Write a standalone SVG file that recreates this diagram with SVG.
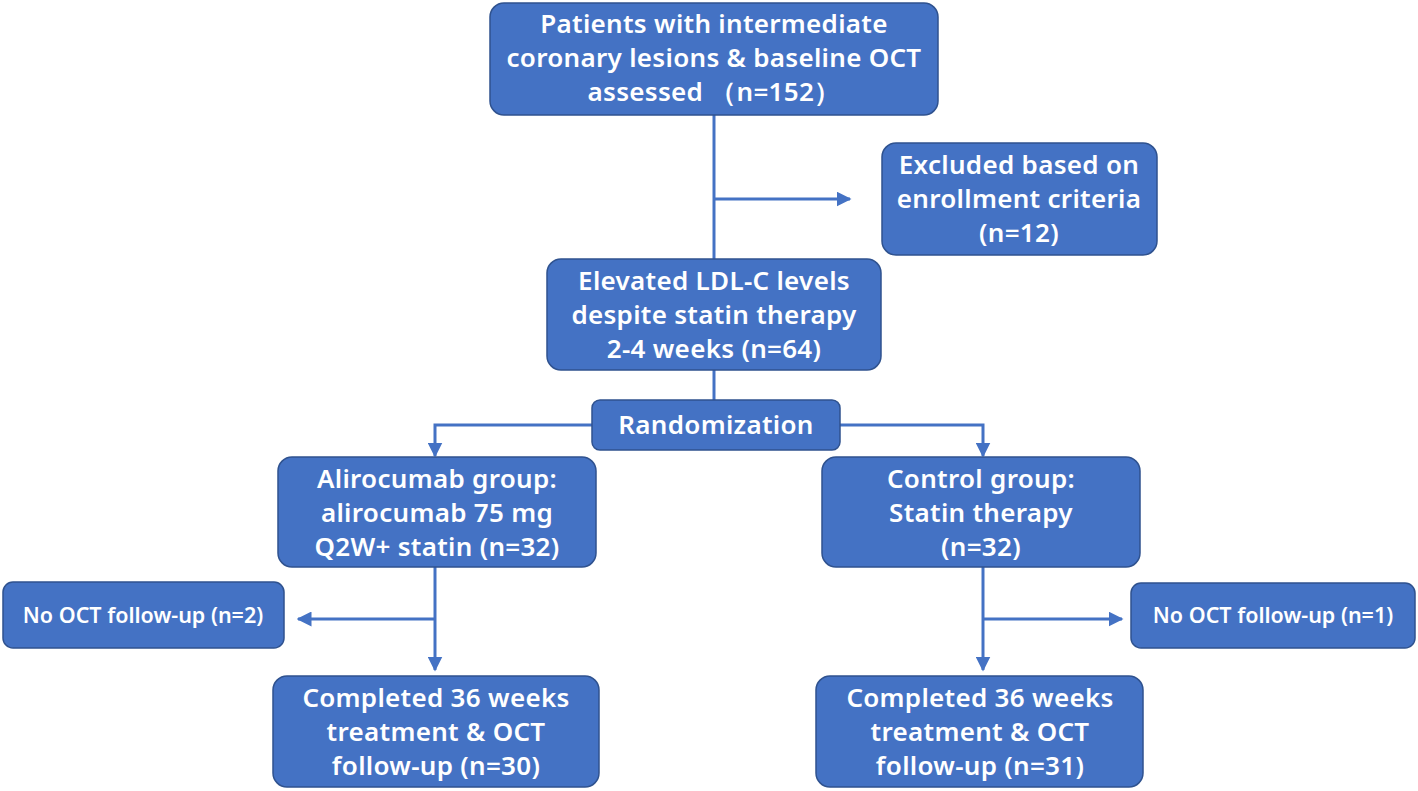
<svg xmlns="http://www.w3.org/2000/svg" width="1418" height="791" viewBox="0 0 1418 791">
<defs>
<style>
.box{fill:#4472C4;stroke:#2F528F;stroke-width:1.5}
.t{font-family:"Noto Sans","Liberation Sans",sans-serif;font-size:26px;font-weight:600;letter-spacing:0.3px;fill:#fff;text-anchor:middle}
.s{font-family:"Noto Sans","Liberation Sans",sans-serif;font-size:21.5px;font-weight:600;fill:#fff;text-anchor:middle}
.ln{fill:none;stroke:#4472C4;stroke-width:3}
</style>
<marker id="ah" viewBox="0 0 10 10" refX="9" refY="5" markerWidth="5" markerHeight="5" orient="auto" markerUnits="strokeWidth">
<path d="M0,0 L10,5 L0,10 z" fill="#4472C4"/>
</marker>
</defs>
<rect width="1418" height="791" fill="#fff"/>
<g id="connectors">
<path class="ln" d="M714,115 V259"/>
<path class="ln" d="M714,199 H850" marker-end="url(#ah)"/>
<path class="ln" d="M714,370 V400"/>
<path class="ln" d="M592,425 H435 V456" marker-end="url(#ah)"/>
<path class="ln" d="M840,425 H983 V456" marker-end="url(#ah)"/>
<path class="ln" d="M435,567 V670" marker-end="url(#ah)"/>
<path class="ln" d="M435,619 H298" marker-end="url(#ah)"/>
<path class="ln" d="M983,567 V670" marker-end="url(#ah)"/>
<path class="ln" d="M983,619 H1122" marker-end="url(#ah)"/>
</g>
<g id="n1"><rect class="box" x="490" y="3" width="448" height="112" rx="14"/>
<text class="t" x="714" y="33">Patients with intermediate</text>
<text class="t" x="714" y="67">coronary lesions &amp; baseline OCT</text>
<text class="t" x="714" y="101">assessed （n=152）</text></g>
<g id="n2"><rect class="box" x="882" y="143" width="275" height="112" rx="14"/>
<text class="t" x="1019" y="174">Excluded based on</text>
<text class="t" x="1019" y="208">enrollment criteria</text>
<text class="t" x="1019" y="242">(n=12)</text></g>
<g id="n3"><rect class="box" x="547" y="259" width="334" height="111" rx="14"/>
<text class="t" x="714" y="290">Elevated LDL-C levels</text>
<text class="t" x="714" y="324">despite statin therapy</text>
<text class="t" x="714" y="358">2-4 weeks (n=64)</text></g>
<g id="n4"><rect class="box" x="592" y="400" width="248" height="50" rx="8"/>
<text class="t" x="716" y="434">Randomization</text></g>
<g id="n5"><rect class="box" x="278" y="457" width="318" height="110" rx="14"/>
<text class="t" x="437" y="488">Alirocumab group:</text>
<text class="t" x="437" y="522">alirocumab 75 mg</text>
<text class="t" x="437" y="556">Q2W+ statin (n=32)</text></g>
<g id="n6"><rect class="box" x="822" y="457" width="318" height="110" rx="14"/>
<text class="t" x="981" y="488">Control group:</text>
<text class="t" x="981" y="522">Statin therapy</text>
<text class="t" x="981" y="556">(n=32)</text></g>
<g id="n7"><rect class="box" x="3" y="582" width="281" height="66" rx="10"/>
<text class="s" x="143" y="623">No OCT follow-up (n=2)</text></g>
<g id="n8"><rect class="box" x="1131" y="583" width="284" height="65" rx="10"/>
<text class="s" x="1273" y="623">No OCT follow-up (n=1)</text></g>
<g id="n9"><rect class="box" x="273" y="676" width="326" height="111" rx="14"/>
<text class="t" x="436" y="707">Completed 36 weeks</text>
<text class="t" x="436" y="741">treatment &amp; OCT</text>
<text class="t" x="436" y="775">follow-up (n=30)</text></g>
<g id="n10"><rect class="box" x="816" y="676" width="327" height="111" rx="14"/>
<text class="t" x="980" y="707">Completed 36 weeks</text>
<text class="t" x="980" y="741">treatment &amp; OCT</text>
<text class="t" x="980" y="775">follow-up (n=31)</text></g>
</svg>
